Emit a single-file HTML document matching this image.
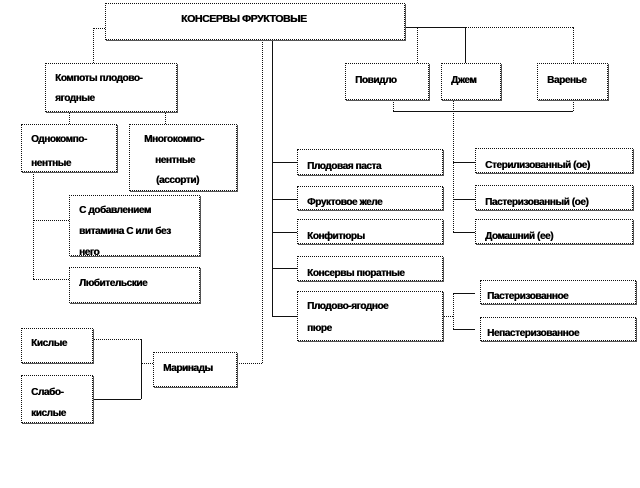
<!DOCTYPE html>
<html><head><meta charset="utf-8"><style>
body{margin:0;width:640px;height:488px;background:#fff;position:relative;overflow:hidden;font-family:"Liberation Sans",sans-serif;}
.b{position:absolute;border:1px dotted #111;box-shadow:1px 1px 0 #555;background:#fff;overflow:hidden;box-sizing:border-box;}
.t{position:absolute;font-weight:bold;font-size:10px;letter-spacing:-0.4px;color:#000;white-space:nowrap;line-height:12px;text-shadow:0.4px 0 0 #000;}
.h{position:absolute;border-top:1px dotted #111;height:0;}
.v{position:absolute;border-left:1px dotted #111;width:0;}
.hs{position:absolute;border-top:1px solid #111;height:0;}
.vs{position:absolute;border-left:1px solid #111;width:0;}
</style></head><body>

<!-- connectors -->
<div class="h" style="left:93px;top:28px;width:12px"></div>
<div class="v" style="left:93px;top:28px;height:35px"></div>
<div class="v" style="left:69px;top:111px;height:13px"></div>
<div class="v" style="left:165px;top:111px;height:13px"></div>
<div class="v" style="left:33px;top:172px;height:107px"></div>
<div class="h" style="left:33px;top:220px;width:36px"></div>
<div class="h" style="left:33px;top:279px;width:36px"></div>

<div class="v" style="left:262px;top:40px;height:323px"></div>
<div class="h" style="left:237px;top:363px;width:25px"></div>
<div class="vs" style="left:272px;top:40px;height:276px"></div>
<div class="hs" style="left:272px;top:162px;width:25px"></div>
<div class="hs" style="left:272px;top:199px;width:25px"></div>
<div class="hs" style="left:272px;top:232px;width:25px"></div>
<div class="hs" style="left:272px;top:268px;width:25px"></div>
<div class="hs" style="left:272px;top:316px;width:25px"></div>

<div class="h" style="left:93px;top:339px;width:48px"></div>
<div class="vs" style="left:141px;top:339px;height:60px"></div>
<div class="hs" style="left:93px;top:399px;width:48px"></div>
<div class="h" style="left:141px;top:363px;width:12px"></div>

<div class="hs" style="left:405px;top:27px;width:60px"></div>
<div class="h" style="left:465px;top:27px;width:108px"></div>
<div class="v" style="left:417px;top:27px;height:36px"></div>
<div class="vs" style="left:465px;top:27px;height:36px"></div>
<div class="v" style="left:573px;top:27px;height:36px"></div>
<div class="v" style="left:393px;top:100px;height:11px"></div>
<div class="v" style="left:573px;top:100px;height:11px"></div>
<div class="hs" style="left:393px;top:111px;width:180px"></div>
<div class="v" style="left:453px;top:100px;height:132px"></div>
<div class="hs" style="left:453px;top:162px;width:22px"></div>
<div class="hs" style="left:453px;top:199px;width:22px"></div>
<div class="hs" style="left:453px;top:232px;width:22px"></div>
<div class="h" style="left:441px;top:316px;width:12px"></div>
<div class="v" style="left:453px;top:293px;height:36px"></div>
<div class="hs" style="left:453px;top:293px;width:22px"></div>
<div class="hs" style="left:453px;top:329px;width:22px"></div>

<!-- boxes -->
<div class="b" style="left:105px;top:3px;width:300px;height:37px"><div class="t" style="left:75px;top:9px;font-size:10.5px">КОНСЕРВЫ ФРУКТОВЫЕ</div></div>
<div class="b" style="left:45px;top:63px;width:132px;height:49px"><div class="t" style="left:9px;top:9px">Компоты плодово-</div><div class="t" style="left:9px;top:29px">ягодные</div></div>
<div class="b" style="left:21px;top:124px;width:96px;height:48px"><div class="t" style="left:9px;top:9px">Однокомпо-</div><div class="t" style="left:9px;top:33px">нентные</div></div>
<div class="b" style="left:129px;top:124px;width:108px;height:67px"><div class="t" style="left:14px;top:9px">Многокомпо-</div><div class="t" style="left:25px;top:30px">нентные</div><div class="t" style="left:26px;top:50px">(ассорти)</div></div>
<div class="b" style="left:69px;top:195px;width:131px;height:61px"><div class="t" style="left:9px;top:9px">С добавлением</div><div class="t" style="left:9px;top:30px">витамина С или без</div><div class="t" style="left:9px;top:51px">него</div></div>
<div class="b" style="left:69px;top:267px;width:131px;height:36px"><div class="t" style="left:9px;top:10px">Любительские</div></div>
<div class="b" style="left:21px;top:328px;width:72px;height:35px"><div class="t" style="left:9px;top:9px">Кислые</div></div>
<div class="b" style="left:21px;top:375px;width:72px;height:48px"><div class="t" style="left:9px;top:11px">Слабо-</div><div class="t" style="left:9px;top:32px">кислые</div></div>
<div class="b" style="left:153px;top:352px;width:84px;height:35px"><div class="t" style="left:9px;top:10px">Маринады</div></div>

<div class="b" style="left:345px;top:63px;width:84px;height:37px"><div class="t" style="left:9px;top:11px">Повидло</div></div>
<div class="b" style="left:441px;top:63px;width:60px;height:37px"><div class="t" style="left:9px;top:11px">Джем</div></div>
<div class="b" style="left:537px;top:63px;width:71px;height:37px"><div class="t" style="left:9px;top:11px">Варенье</div></div>

<div class="b" style="left:297px;top:149px;width:146px;height:26px"><div class="t" style="left:9px;top:11px">Плодовая паста</div></div>
<div class="b" style="left:297px;top:186px;width:146px;height:24px"><div class="t" style="left:9px;top:10px">Фруктовое желе</div></div>
<div class="b" style="left:297px;top:219px;width:146px;height:25px"><div class="t" style="left:9px;top:11px">Конфитюры</div></div>
<div class="b" style="left:297px;top:256px;width:146px;height:25px"><div class="t" style="left:9px;top:11px">Консервы пюратные</div></div>
<div class="b" style="left:297px;top:291px;width:146px;height:50px"><div class="t" style="left:9px;top:9px">Плодово-ягодное</div><div class="t" style="left:9px;top:31px">пюре</div></div>

<div class="b" style="left:475px;top:148px;width:158px;height:25px"><div class="t" style="left:9px;top:11px">Стерилизованный (ое)</div></div>
<div class="b" style="left:475px;top:185px;width:158px;height:25px"><div class="t" style="left:9px;top:11px">Пастеризованный (ое)</div></div>
<div class="b" style="left:475px;top:219px;width:158px;height:25px"><div class="t" style="left:9px;top:11px">Домашний (ее)</div></div>
<div class="b" style="left:480px;top:280px;width:156px;height:24px"><div class="t" style="left:6px;top:10px">Пастеризованное</div></div>
<div class="b" style="left:480px;top:317px;width:156px;height:24px"><div class="t" style="left:6px;top:10px">Непастеризованное</div></div>
</body></html>
